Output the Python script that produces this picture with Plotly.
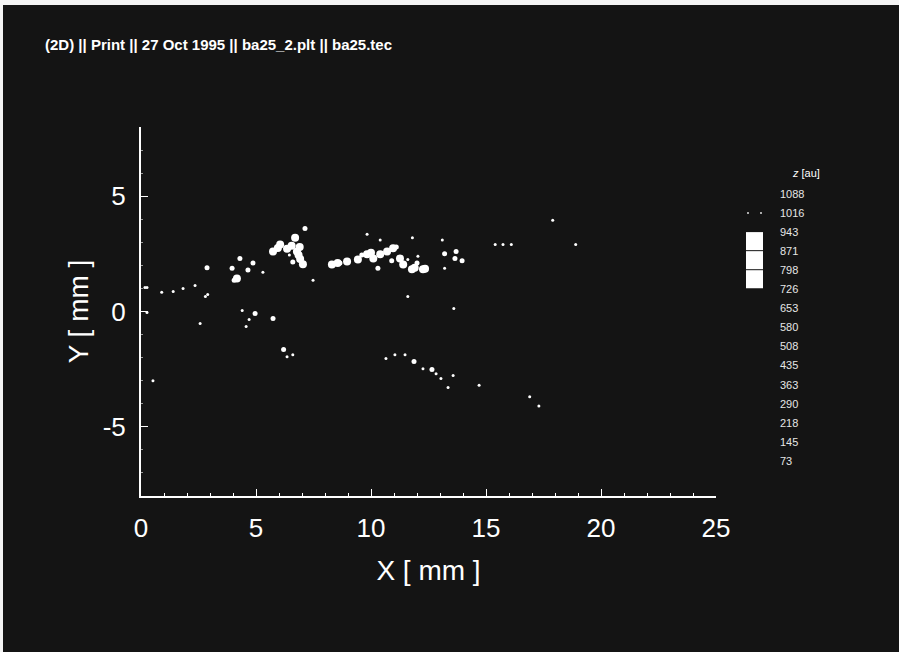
import plotly.graph_objects as go

# ---- data ----
x_mm = [5.74, 5.95, 6.05, 6.35, 6.55, 6.70, 6.78, 6.85, 6.92, 7.04, 6.60, 7.13, 6.45, 6.90,
        4.30, 2.87, 3.96, 4.65, 4.87, 4.17, 4.05, 7.48, 5.30,
        8.30, 8.55, 8.65, 8.96, 9.43, 9.60, 9.83, 10.00, 10.10, 10.40, 10.70, 10.96, 11.10,
        11.26, 11.40, 11.78, 11.90, 12.00, 12.26, 12.35, 10.30, 10.90, 11.60,
        9.83, 10.40, 11.80, 13.10, 13.20, 13.70, 13.65, 13.96, 13.20, 12.04, 15.40, 15.74,
        16.10, 17.90, 18.90,
        0.17, 0.26, 0.90, 1.40, 1.83, 2.35, 2.80, 2.90, 4.40, 4.96, 5.74, 0.26, 2.57, 4.70,
        4.57, 11.60, 13.60,
        6.20, 6.35, 6.60, 10.65, 11.04, 11.48, 11.87, 12.26, 12.65, 12.83, 13.04, 13.57,
        13.35, 14.70, 16.90, 0.52, 17.30]
y_mm = [2.60, 2.75, 2.90, 2.72, 2.85, 3.20, 2.60, 2.45, 2.28, 2.05, 2.15, 3.60, 2.45, 2.80,
        2.30, 1.90, 1.87, 1.80, 2.10, 1.43, 1.35, 1.35, 1.70,
        2.04, 2.10, 2.10, 2.17, 2.26, 2.45, 2.48, 2.55, 2.30, 2.48, 2.60, 2.74, 2.80,
        2.30, 2.04, 1.83, 1.90, 2.10, 1.83, 1.85, 1.87, 2.20, 2.25,
        3.35, 3.10, 3.20, 3.10, 2.50, 2.60, 2.30, 2.20, 1.87, 2.40, 2.90, 2.90,
        2.90, 3.96, 2.90,
        1.04, 1.04, 0.83, 0.87, 1.00, 1.13, 0.65, 0.74, 0.04, -0.09, -0.30, -0.04, -0.52, -0.35,
        -0.65, 0.65, 0.13,
        -1.65, -1.96, -1.87, -2.04, -1.87, -1.87, -2.17, -2.48, -2.52, -2.70, -2.90, -2.78,
        -3.30, -3.20, -3.70, -3.00, -4.10]
z_au = [850, 850, 850, 850, 850, 850, 850, 850, 850, 850, 900, 900, 1016, 850,
        900, 900, 900, 900, 900, 850, 900, 1016, 1016,
        850, 850, 900, 850, 850, 900, 850, 850, 850, 850, 850, 850, 900,
        850, 850, 850, 850, 900, 850, 850, 900, 900, 1016,
        1016, 1016, 1016, 1016, 900, 900, 900, 900, 1016, 1016, 1016, 1016,
        1016, 1016, 1016,
        1016, 1016, 1016, 1016, 1016, 1016, 1016, 1016, 1016, 900, 900, 1016, 1016, 1016,
        1016, 1016, 1016,
        900, 1016, 1016, 1016, 1016, 1016, 900, 1016, 900, 1016, 1016, 1016,
        1016, 1016, 1016, 1016, 1016]

z_levels = [1088, 1016, 943, 871, 798, 726, 653, 580, 508, 435, 363, 290, 218, 145, 73]
filled_bands = [(943, 871), (871, 798), (798, 726)]

title_text = "(2D) || Print || 27 Oct 1995 || ba25_2.plt || ba25.tec"
x_ticks = [0, 5, 10, 15, 20, 25]
y_ticks = [-5, 0, 5]

# ---- styling ----
BG = "#141414"
FG = "#ffffff"
FONT = "Liberation Sans, Arial, Helvetica, sans-serif"


def size_of(z):
    if z <= 870:
        return 8
    if z <= 943:
        return 5
    return 3


fig = go.Figure()
fig.add_trace(go.Scatter(
    x=x_mm, y=y_mm, mode="markers",
    marker=dict(color=FG, size=[size_of(z) for z in z_au], opacity=1, line=dict(width=0)),
    hoverinfo="skip", showlegend=False,
))

W, H = 899, 652
L, R, T, B = 141, 183, 127, 156
pw, ph = W - L - R, H - T - B


def px_x(p):
    return (p - L) / pw


def px_y(p):
    return (H - B - p) / ph


annotations = [
    dict(text="<b>" + title_text + "</b>", x=px_x(43), y=px_y(45), xref="paper", yref="paper",
         xanchor="left", yanchor="middle", showarrow=False,
         font=dict(family=FONT, size=15, color=FG)),
    dict(text="<i>z</i> [au]", x=px_x(790), y=px_y(173), xref="paper", yref="paper",
         xanchor="left", yanchor="middle", showarrow=False,
         font=dict(family=FONT, size=11, color=FG)),
]
row0, step = 194, 19.05
for i, lv in enumerate(z_levels):
    annotations.append(dict(text=str(lv), x=px_x(778), y=px_y(row0 + i * step),
                            xref="paper", yref="paper", xanchor="left", yanchor="middle",
                            showarrow=False, font=dict(family=FONT, size=11, color="#e6e6e6")))

shapes = [
    # white scan border on top and left
    dict(type="rect", xref="paper", yref="paper", x0=px_x(-5), x1=px_x(W + 5),
         y0=px_y(5), y1=px_y(-5), fillcolor="#f4f4f4", line=dict(width=0), layer="below"),
    dict(type="rect", xref="paper", yref="paper", x0=px_x(-5), x1=px_x(3),
         y0=px_y(H + 5), y1=px_y(-5), fillcolor="#f4f4f4", line=dict(width=0), layer="below"),
]
for hi, lo in filled_bands:
    i0, i1 = z_levels.index(hi), z_levels.index(lo)
    shapes.append(dict(type="rect", xref="paper", yref="paper",
                       x0=px_x(746), x1=px_x(763),
                       y0=px_y(row0 + i1 * step - 1), y1=px_y(row0 + i0 * step),
                       fillcolor="#ffffff", line=dict(width=0)))
i_dot = z_levels.index(1016)
for cx in (748, 761):
    shapes.append(dict(type="circle", xref="paper", yref="paper",
                       x0=px_x(cx - 1), x1=px_x(cx + 1),
                       y0=px_y(row0 + i_dot * step + 1), y1=px_y(row0 + i_dot * step - 1),
                       fillcolor="#dddddd", line=dict(width=0)))

fig.update_layout(
    width=W, height=H,
    margin=dict(l=L, r=R, t=T, b=B, pad=0),
    paper_bgcolor=BG, plot_bgcolor=BG,
    annotations=annotations, shapes=shapes,
    xaxis=dict(range=[0, 25], tickvals=x_ticks, ticktext=[str(v) for v in x_ticks],
               showgrid=False, zeroline=False, showline=True, linecolor=FG, linewidth=2,
               ticks="inside", ticklen=7, tickwidth=1, tickcolor=FG,
               minor=dict(dtick=1, ticks="inside", ticklen=3, tickcolor=FG, showgrid=False),
               tickfont=dict(family=FONT, size=26, color=FG), ticklabelstandoff=8,
               title=dict(text="X [ mm ]", font=dict(family=FONT, size=28, color=FG), standoff=18)),
    yaxis=dict(range=[-8, 8], tickvals=y_ticks, ticktext=[str(v) for v in y_ticks],
               showgrid=False, zeroline=False, showline=True, linecolor=FG, linewidth=2,
               ticks="inside", ticklen=7, tickwidth=1, tickcolor=FG,
               minor=dict(dtick=1, ticks="inside", ticklen=2, tickcolor="#9a9a9a", showgrid=False),
               tickfont=dict(family=FONT, size=26, color=FG), ticklabelstandoff=8,
               title=dict(text="Y [ mm ]", font=dict(family=FONT, size=28, color=FG), standoff=6)),
)

fig.write_html("out.html", config={"displayModeBar": False},
               post_script="document.body.style.margin='0';document.body.style.background='%s';" % BG)
